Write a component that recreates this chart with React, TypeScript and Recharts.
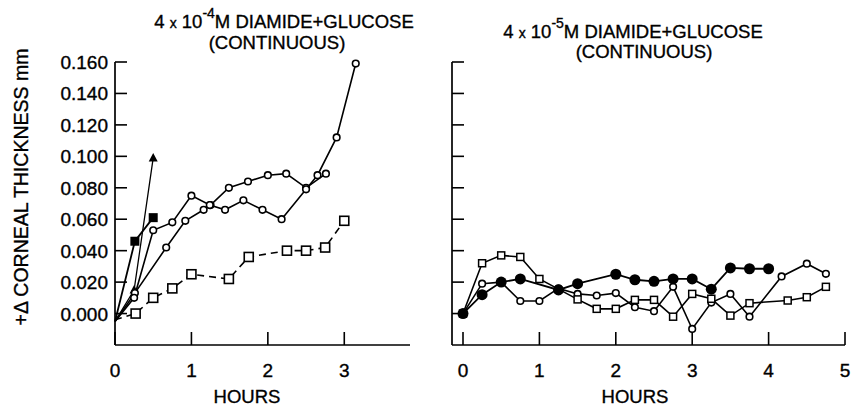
import { LineChart, Line, XAxis, YAxis } from 'recharts';

const FONT = '"Liberation Sans", Arial, Helvetica, sans-serif';

// left panel: 4 x 10^-4 M diamide + glucose
const triHours = [0, 0.25, 0.5];
const triValues = [-0.005, 0.015, 0.099];
const fSqHours = [0, 0.26, 0.5];
const fSqValues = [-0.005, 0.046, 0.061];
const circAHours = [0, 0.25, 0.5, 0.75, 1.0, 1.24, 1.44, 1.68, 1.93, 2.18, 2.5, 2.65, 2.9, 3.15];
const circAValues = [-0.005, 0.01, 0.053, 0.058, 0.075, 0.069, 0.066, 0.072, 0.066, 0.06, 0.079, 0.088, 0.112, 0.159];
const circBHours = [0, 0.26, 0.67, 0.92, 1.16, 1.25, 1.49, 1.74, 2.0, 2.24, 2.5, 2.76];
const circBValues = [-0.005, 0.013, 0.042, 0.059, 0.066, 0.069, 0.08, 0.084, 0.088, 0.089, 0.08, 0.089];
const dashSqHours = [0, 0.27, 0.5, 0.75, 1.0, 1.49, 1.75, 2.25, 2.5, 2.75, 3.0];
const dashSqValues = [-0.004, 0.0, 0.01, 0.016, 0.025, 0.022, 0.036, 0.04, 0.04, 0.042, 0.059];

// right panel: 4 x 10^-5 M diamide + glucose
const fCircHours = [0, 0.25, 0.5, 0.75, 1.25, 1.5, 2.0, 2.25, 2.5, 2.75, 3.0, 3.25, 3.5, 3.75, 4.0];
const fCircValues = [0, 0.012, 0.02, 0.022, 0.015, 0.019, 0.025, 0.0215, 0.0205, 0.022, 0.022, 0.0155, 0.029, 0.0285, 0.0285];
const oSqHours = [0, 0.25, 0.5, 0.75, 1.0, 1.5, 1.75, 2.0, 2.25, 2.5, 2.75, 3.0, 3.25, 3.5, 3.75, 4.25, 4.5, 4.75];
const oSqValues = [0, 0.032, 0.037, 0.036, 0.022, 0.009, 0.003, 0.003, 0.0087, 0.0087, -0.002, 0.0125, 0.0094, -0.0013, 0.0066, 0.0083, 0.0104, 0.017];
const oCircHours = [0, 0.25, 0.5, 0.75, 1.0, 1.25, 1.5, 1.75, 2.0, 2.25, 2.5, 2.75, 3.0, 3.25, 3.5, 3.75, 4.17, 4.5, 4.75];
const oCircValues = [0, 0.019, 0.02, 0.008, 0.008, 0.016, 0.0125, 0.0115, 0.013, 0.004, 0.0015, 0.017, -0.0098, 0.007, 0.0125, -0.002, 0.0236, 0.0317, 0.0253];

const yTicks = [0, 0.02, 0.04, 0.06, 0.08, 0.1, 0.12, 0.14, 0.16];
const leftXTicks = [0, 1, 2, 3];
const rightXTicks = [0, 1, 2, 3, 4, 5];

const toRows = (hours: number[], values: number[]) => hours.map((h, i) => ({ h, v: values[i] }));

// left panel lines all start from one common point, drawn without a marker
const skipFirst = (draw: (p: any) => any) => (p: any) => (p.index === 0 ? <g key="s0" /> : draw(p));

const openCircle = (p: any) => (
  <circle key={`oc${p.index}`} cx={p.cx} cy={p.cy} r={3.3} fill="#fff" stroke="#000" strokeWidth={1.6} />
);
const filledCircle = (p: any) => <circle key={`fc${p.index}`} cx={p.cx} cy={p.cy} r={5.5} fill="#000" />;
const openSquare = (p: any) => (
  <rect key={`os${p.index}`} x={p.cx - 3.5} y={p.cy - 3.5} width={7} height={7} fill="#fff" stroke="#000" strokeWidth={1.5} />
);
const bigOpenSquare = (p: any) => (
  <rect key={`bs${p.index}`} x={p.cx - 4.5} y={p.cy - 4.5} width={9} height={9} fill="#fff" stroke="#000" strokeWidth={1.6} />
);
const filledSquare = (p: any) => (
  <rect key={`fs${p.index}`} x={p.cx - 4.5} y={p.cy - 4.5} width={9} height={9} fill="#000" />
);
const filledTriangle = (p: any) => (
  <path key={`ft${p.index}`} d={`M${p.cx},${p.cy - 5} L${p.cx + 4.5},${p.cy + 3.5} L${p.cx - 4.5},${p.cy + 3.5} Z`} fill="#000" />
);

const textInk = { fill: '#000', stroke: '#000', strokeWidth: 0.35 };

const LeftYTick = ({ x, y, payload }: any) => (
  <g>
    <line x1={x} x2={x + 12} y1={y} y2={y} stroke="#000" strokeWidth={1.6} />
    <text x={x - 7} y={y + 7} textAnchor="end" fontSize={19} fontFamily={FONT} {...textInk}>
      {Number(payload.value).toFixed(3)}
    </text>
  </g>
);
const RightYTick = ({ x, y }: any) => <line x1={x} x2={x + 12} y1={y} y2={y} stroke="#000" strokeWidth={1.6} />;
const XTick = ({ x, y, payload }: any) => (
  <g>
    <line x1={x} x2={x} y1={y - 13} y2={y} stroke="#000" strokeWidth={1.6} />
    <text x={x} y={y + 32} textAnchor="middle" fontSize={19} fontFamily={FONT} {...textInk}>
      {payload.value}
    </text>
  </g>
);

const axisStyle = { stroke: '#000', strokeWidth: 1.7 };
const lineProps = { type: 'linear' as const, dataKey: 'v', stroke: '#000', strokeWidth: 1.6, isAnimationActive: false };

export default function App() {
  return (
    <div style={{ position: 'absolute', left: 0, top: 0, width: 851, height: 407, background: '#fff' }}>
      <div style={{ position: 'absolute', left: 0, top: 0 }}>
        <LineChart width={420} height={407} margin={{ top: 62, right: 10, bottom: 32, left: 55 }}>
          <XAxis type="number" dataKey="h" domain={[0, 3.86]} ticks={leftXTicks} height={30}
            axisLine={axisStyle} tickLine={false} tickSize={0} tickMargin={0} tick={<XTick />} />
          <YAxis type="number" dataKey="v" domain={[-0.02, 0.16]} ticks={yTicks} width={60}
            axisLine={axisStyle} tickLine={false} tickSize={0} tickMargin={0} tick={<LeftYTick />} />
          <Line {...lineProps} data={toRows(dashSqHours, dashSqValues)} strokeDasharray="7 5" dot={skipFirst(bigOpenSquare)} />
          <Line {...lineProps} data={toRows(triHours, triValues)} strokeWidth={1.3} dot={skipFirst(filledTriangle)} />
          <Line {...lineProps} data={toRows(circBHours, circBValues)} dot={skipFirst(openCircle)} />
          <Line {...lineProps} data={toRows(circAHours, circAValues)} dot={skipFirst(openCircle)} />
          <Line {...lineProps} data={toRows(fSqHours, fSqValues)} strokeWidth={1.8} dot={skipFirst(filledSquare)} />
        </LineChart>
      </div>
      <div style={{ position: 'absolute', left: 420, top: 0 }}>
        <LineChart width={431} height={407} margin={{ top: 62, right: 6, bottom: 32, left: 12 }}>
          <XAxis type="number" dataKey="h" domain={[-0.144, 5]} ticks={rightXTicks} height={30}
            axisLine={axisStyle} tickLine={false} tickSize={0} tickMargin={0} tick={<XTick />} />
          <YAxis type="number" dataKey="v" domain={[-0.02, 0.16]} ticks={yTicks} width={20}
            axisLine={axisStyle} tickLine={false} tickSize={0} tickMargin={0} tick={<RightYTick />} />
          <Line {...lineProps} data={toRows(oCircHours, oCircValues)} dot={openCircle} />
          <Line {...lineProps} data={toRows(oSqHours, oSqValues)} dot={openSquare} />
          <Line {...lineProps} data={toRows(fCircHours, fCircValues)} strokeWidth={1.8} dot={filledCircle} />
        </LineChart>
      </div>
      <svg width={851} height={407} style={{ position: 'absolute', left: 0, top: 0, pointerEvents: 'none' }}
        fontFamily={FONT} {...textInk}>
        <text x={284} y={28} textAnchor="middle" fontSize={18.5}>
          4 <tspan fontSize={14}>x</tspan> 10<tspan fontSize={14} dy={-10}>-4</tspan>
          <tspan dy={10}>M DIAMIDE+GLUCOSE</tspan>
        </text>
        <text x={277} y={49} textAnchor="middle" fontSize={18.5}>(CONTINUOUS)</text>
        <text x={633} y={38} textAnchor="middle" fontSize={18.5}>
          4 <tspan fontSize={14}>x</tspan> 10<tspan fontSize={14} dy={-10}>-5</tspan>
          <tspan dy={10}>M DIAMIDE+GLUCOSE</tspan>
        </text>
        <text x={644} y={58} textAnchor="middle" fontSize={18.5}>(CONTINUOUS)</text>
        <text x={28} y={187} textAnchor="middle" fontSize={19.5} transform="rotate(-90, 28, 187)">
          +Δ CORNEAL THICKNESS mm
        </text>
        <text x={247} y={403} textAnchor="middle" fontSize={18.5}>HOURS</text>
        <text x={635} y={403} textAnchor="middle" fontSize={18.5}>HOURS</text>
      </svg>
    </div>
  );
}
